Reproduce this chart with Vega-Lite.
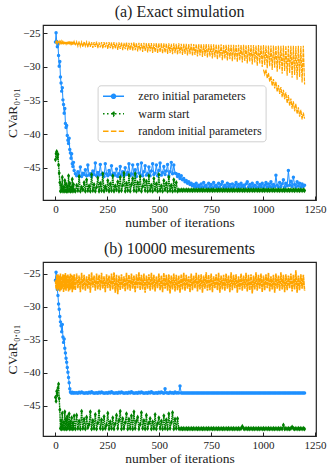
{
"$schema": "https://vega.github.io/schema/vega-lite/v6.json",
"padding": {"left": 5, "top": 3, "right": 10, "bottom": 5},
"config": {
  "font": "Liberation Serif",
  "view": {"stroke": "#222", "strokeWidth": 1.2},
  "axis": {"grid": false, "domain": false, "tickSize": -4, "tickColor": "#222", "tickWidth": 1, "labelFont": "Liberation Serif", "labelFontSize": 11, "labelColor": "#222", "labelPadding": 7, "titleFont": "Liberation Serif", "titleFontSize": 13.5, "titleFontWeight": "normal", "titleColor": "#222", "labelFlush": false, "labelOverlap": false, "labelBound": false},
  "axisX": {"titlePadding": 1},
  "axisY": {"titlePadding": 3},
  "title": {"font": "Liberation Serif", "fontSize": 16, "fontWeight": "normal", "color": "#222", "offset": 5},
  "concat": {"spacing": 10}
},
"datasets": {"d": [
{"i":0,"za":-26.3,"wa":-43.8,"ra":-26.2,"zb":-26.0,"wb":-43.7,"rb":-26.0},
{"i":3,"za":-24.9,"wa":-42.9,"ra":-26.45,"zb":-24.8,"wb":-44.3,"rb":-27.3},
{"i":6,"za":-26.2,"wa":-42.6,"ra":-26.2,"zb":-25.6,"wb":-42.8,"rb":-25.2},
{"i":9,"za":-27.0,"wa":-43.5,"ra":-26.5,"zb":-27.4,"wb":-43.4,"rb":-27.6},
{"i":12,"za":-26.6,"wa":-43.0,"ra":-26.25,"zb":-28.3,"wb":-42.3,"rb":-25.1},
{"i":15,"za":-28.3,"wa":-44.6,"ra":-26.45,"zb":-29.6,"wb":-41.7,"rb":-27.4},
{"i":18,"za":-29.9,"wa":-45.8,"ra":-26.2,"zb":-30.4,"wb":-43.9,"rb":-25.3},
{"i":21,"za":-29.2,"wa":-47.2,"ra":-26.55,"zb":-31.5,"wb":-45.6,"rb":-27.7},
{"i":24,"za":-31.5,"wa":-48.5,"ra":-26.25,"zb":-32.3,"wb":-48.4,"rb":-25.0},
{"i":27,"za":-32.4,"wa":-47.6,"ra":-26.5,"zb":-32.9,"wb":-47.2,"rb":-27.5},
{"i":30,"za":-33.6,"wa":-48.4,"ra":-26.2,"zb":-33.8,"wb":-48.5,"rb":-25.4},
{"i":33,"za":-33.1,"wa":-46.4,"ra":-26.6,"zb":-32.7,"wb":-46.1,"rb":-27.3},
{"i":36,"za":-34.9,"wa":-48.5,"ra":-26.25,"zb":-34.6,"wb":-48.4,"rb":-25.1},
{"i":39,"za":-35.6,"wa":-47.9,"ra":-26.5,"zb":-35.4,"wb":-47.5,"rb":-27.8},
{"i":42,"za":-36.9,"wa":-48.5,"ra":-26.2,"zb":-34.9,"wb":-48.5,"rb":-25.2},
{"i":45,"za":-36.2,"wa":-46.9,"ra":-26.6,"zb":-36.3,"wb":-45.9,"rb":-27.4},
{"i":48,"za":-38.4,"wa":-48.4,"ra":-26.25,"zb":-37.0,"wb":-48.4,"rb":-24.9},
{"i":51,"za":-39.0,"wa":-47.4,"ra":-26.55,"zb":-37.8,"wb":-47.0,"rb":-27.6},
{"i":54,"za":-38.7,"wa":-48.5,"ra":-26.2,"zb":-38.4,"wb":-48.5,"rb":-25.3},
{"i":57,"za":-40.2,"wa":-47.8,"ra":-26.65,"zb":-39.2,"wb":-46.6,"rb":-27.2},
{"i":60,"za":-40.9,"wa":-48.5,"ra":-26.25,"zb":-39.9,"wb":-48.4,"rb":-25.1},
{"i":63,"za":-41.4,"wa":-46.2,"ra":-26.6,"zb":-40.7,"wb":-47.8,"rb":-27.7},
{"i":66,"za":-40.6,"wa":-48.4,"ra":-26.2,"zb":-41.5,"wb":-46.2,"rb":-25.4},
{"i":69,"za":-42.3,"wa":-47.3,"ra":-26.7,"zb":-42.4,"wb":-48.5,"rb":-27.5},
{"i":72,"za":-42.8,"wa":-48.5,"ra":-26.25,"zb":-42.9,"wb":-47.4,"rb":-25.0},
{"i":75,"za":-43.6,"wa":-47.9,"ra":-26.6,"zb":-43.0,"wb":-48.4,"rb":-27.3},
{"i":78,"za":-42.9,"wa":-48.4,"ra":-26.25,"zb":-43.05,"wb":-46.8,"rb":-25.2},
{"i":81,"za":-44.4,"wa":-46.7,"ra":-26.7,"zb":-42.95,"wb":-48.5,"rb":-27.8},
{"i":84,"za":-44.8,"wa":-48.5,"ra":-26.2,"zb":-43.0,"wb":-47.6,"rb":-25.3},
{"i":87,"za":-44.2,"wa":-47.5,"ra":-26.65,"zb":-43.05,"wb":-48.4,"rb":-27.4},
{"i":90,"za":-45.4,"wa":-48.4,"ra":-26.25,"zb":-43.0,"wb":-46.5,"rb":-25.1},
{"i":96,"za":-45.9,"wa":-48.5,"ra":-26.8,"zb":-43.05,"wb":-48.5,"rb":-27.5},
{"i":102,"za":-46.2,"wa":-47.6,"ra":-26.25,"zb":-43.0,"wb":-46.4,"rb":-25.0},
{"i":108,"za":-45.6,"wa":-48.4,"ra":-26.9,"zb":-43.1,"wb":-48.4,"rb":-27.2},
{"i":114,"za":-46.1,"wa":-46.3,"ra":-26.2,"zb":-42.95,"wb":-47.3,"rb":-25.3},
{"i":120,"za":-44.9,"wa":-48.5,"ra":-26.95,"zb":-43.05,"wb":-48.5,"rb":-27.8},
{"i":126,"za":-46.3,"wa":-47.9,"ra":-26.3,"zb":-42.9,"wb":-45.8,"rb":-24.9},
{"i":132,"za":-45.8,"wa":-48.3,"ra":-27.0,"zb":-43.0,"wb":-48.4,"rb":-27.4},
{"i":138,"za":-46.0,"wa":-47.2,"ra":-26.25,"zb":-43.1,"wb":-47.0,"rb":-25.2},
{"i":144,"za":-45.3,"wa":-48.5,"ra":-26.9,"zb":-43.05,"wb":-48.5,"rb":-27.6},
{"i":150,"za":-46.2,"wa":-46.8,"ra":-26.3,"zb":-43.0,"wb":-46.7,"rb":-25.4},
{"i":156,"za":-44.6,"wa":-48.4,"ra":-27.1,"zb":-43.1,"wb":-48.3,"rb":-27.3},
{"i":162,"za":-46.1,"wa":-47.7,"ra":-26.25,"zb":-42.95,"wb":-47.8,"rb":-25.1},
{"i":168,"za":-45.9,"wa":-48.5,"ra":-27.0,"zb":-43.05,"wb":-45.9,"rb":-27.9},
{"i":174,"za":-46.3,"wa":-46.0,"ra":-26.3,"zb":-42.85,"wb":-48.5,"rb":-24.8},
{"i":180,"za":-45.5,"wa":-48.4,"ra":-27.15,"zb":-43.0,"wb":-47.2,"rb":-27.1},
{"i":186,"za":-46.0,"wa":-47.5,"ra":-26.3,"zb":-43.1,"wb":-48.4,"rb":-25.3},
{"i":192,"za":-44.3,"wa":-48.5,"ra":-27.0,"zb":-43.05,"wb":-46.3,"rb":-27.6},
{"i":198,"za":-46.2,"wa":-47.9,"ra":-26.25,"zb":-43.0,"wb":-48.5,"rb":-25.0},
{"i":204,"za":-45.7,"wa":-46.5,"ra":-27.2,"zb":-43.1,"wb":-47.6,"rb":-27.4},
{"i":210,"za":-46.1,"wa":-48.5,"ra":-26.35,"zb":-42.95,"wb":-45.8,"rb":-25.2},
{"i":216,"za":-44.5,"wa":-47.3,"ra":-27.1,"zb":-43.05,"wb":-48.4,"rb":-27.5},
{"i":222,"za":-46.0,"wa":-48.4,"ra":-26.3,"zb":-42.9,"wb":-47.1,"rb":-24.9},
{"i":228,"za":-45.8,"wa":-45.9,"ra":-27.25,"zb":-43.0,"wb":-48.5,"rb":-27.3},
{"i":234,"za":-46.3,"wa":-48.5,"ra":-26.3,"zb":-43.1,"wb":-46.6,"rb":-25.4},
{"i":240,"za":-44.4,"wa":-47.8,"ra":-27.1,"zb":-43.05,"wb":-48.4,"rb":-27.8},
{"i":246,"za":-45.9,"wa":-48.3,"ra":-26.35,"zb":-43.0,"wb":-47.9,"rb":-25.1},
{"i":252,"za":-46.2,"wa":-46.9,"ra":-27.3,"zb":-43.1,"wb":-46.1,"rb":-27.2},
{"i":258,"za":-45.4,"wa":-48.5,"ra":-26.3,"zb":-42.95,"wb":-48.5,"rb":-25.3},
{"i":264,"za":-46.0,"wa":-47.4,"ra":-27.2,"zb":-43.05,"wb":-47.4,"rb":-27.6},
{"i":270,"za":-44.7,"wa":-48.4,"ra":-26.35,"zb":-42.85,"wb":-48.4,"rb":-25.0},
{"i":276,"za":-46.2,"wa":-46.2,"ra":-27.35,"zb":-43.0,"wb":-46.8,"rb":-27.4},
{"i":282,"za":-45.8,"wa":-48.5,"ra":-26.3,"zb":-43.1,"wb":-48.5,"rb":-24.8},
{"i":288,"za":-46.1,"wa":-47.7,"ra":-27.25,"zb":-43.05,"wb":-47.7,"rb":-27.9},
{"i":294,"za":-45.2,"wa":-48.3,"ra":-26.4,"zb":-43.0,"wb":-46.4,"rb":-25.2},
{"i":300,"za":-46.3,"wa":-47.1,"ra":-27.45,"zb":-43.1,"wb":-48.4,"rb":-28.1},
{"i":306,"za":-45.9,"wa":-48.5,"ra":-26.35,"zb":-42.95,"wb":-47.2,"rb":-25.3},
{"i":312,"za":-44.8,"wa":-46.4,"ra":-27.3,"zb":-43.05,"wb":-45.8,"rb":-27.5},
{"i":318,"za":-46.1,"wa":-48.4,"ra":-26.35,"zb":-42.9,"wb":-48.5,"rb":-25.1},
{"i":324,"za":-45.6,"wa":-47.6,"ra":-27.5,"zb":-43.0,"wb":-46.9,"rb":-27.3},
{"i":330,"za":-46.2,"wa":-45.8,"ra":-26.4,"zb":-43.1,"wb":-48.4,"rb":-25.4},
{"i":336,"za":-45.0,"wa":-48.5,"ra":-27.35,"zb":-43.05,"wb":-47.5,"rb":-27.7},
{"i":342,"za":-46.0,"wa":-47.3,"ra":-26.35,"zb":-43.0,"wb":-46.2,"rb":-24.9},
{"i":348,"za":-45.7,"wa":-48.4,"ra":-27.55,"zb":-43.1,"wb":-48.5,"rb":-27.4},
{"i":354,"za":-44.4,"wa":-46.1,"ra":-26.4,"zb":-42.95,"wb":-47.0,"rb":-25.2},
{"i":360,"za":-46.2,"wa":-48.5,"ra":-27.45,"zb":-43.05,"wb":-48.4,"rb":-27.6},
{"i":366,"za":-45.9,"wa":-47.5,"ra":-26.4,"zb":-42.85,"wb":-46.5,"rb":-25.0},
{"i":372,"za":-44.6,"wa":-46.6,"ra":-27.6,"zb":-43.0,"wb":-48.5,"rb":-27.3},
{"i":378,"za":-46.1,"wa":-48.4,"ra":-26.35,"zb":-43.1,"wb":-45.9,"rb":-25.3},
{"i":384,"za":-45.3,"wa":-45.9,"ra":-27.5,"zb":-43.05,"wb":-48.4,"rb":-27.8},
{"i":390,"za":-46.3,"wa":-48.5,"ra":-26.45,"zb":-43.0,"wb":-47.3,"rb":-25.1},
{"i":396,"za":-44.5,"wa":-47.2,"ra":-27.7,"zb":-43.1,"wb":-46.7,"rb":-27.2},
{"i":402,"za":-45.8,"wa":-48.3,"ra":-26.4,"zb":-42.95,"wb":-48.5,"rb":-24.8},
{"i":408,"za":-46.0,"wa":-46.3,"ra":-27.55,"zb":-43.05,"wb":-47.8,"rb":-27.5},
{"i":414,"za":-44.3,"wa":-48.5,"ra":-26.45,"zb":-42.9,"wb":-46.0,"rb":-25.2},
{"i":420,"za":-46.2,"wa":-47.8,"ra":-27.75,"zb":-43.0,"wb":-48.4,"rb":-27.4},
{"i":426,"za":-45.6,"wa":-46.8,"ra":-26.4,"zb":-43.1,"wb":-47.2,"rb":-25.0},
{"i":432,"za":-44.7,"wa":-48.4,"ra":-27.6,"zb":-43.05,"wb":-48.5,"rb":-27.9},
{"i":438,"za":-46.1,"wa":-47.0,"ra":-26.45,"zb":-43.0,"wb":-46.4,"rb":-25.3},
{"i":444,"za":-45.9,"wa":-48.5,"ra":-27.85,"zb":-43.1,"wb":-48.4,"rb":-27.3},
{"i":450,"za":-44.9,"wa":-46.2,"ra":-26.45,"zb":-42.95,"wb":-47.6,"rb":-25.1},
{"i":456,"za":-46.2,"wa":-48.4,"ra":-27.7,"zb":-43.05,"wb":-46.9,"rb":-27.6},
{"i":462,"za":-45.5,"wa":-47.6,"ra":-26.45,"zb":-42.85,"wb":-48.5,"rb":-24.9},
{"i":468,"za":-44.4,"wa":-48.5,"ra":-27.9,"zb":-43.0,"wb":-47.4,"rb":-27.4},
{"i":474,"za":-46.0,"wa":-46.6,"ra":-26.5,"zb":-43.1,"wb":-48.4,"rb":-25.2},
{"i":480,"za":-45.8,"wa":-48.3,"ra":-27.75,"zb":-43.05,"wb":-46.3,"rb":-27.7},
{"i":486,"za":-44.6,"wa":-47.4,"ra":-26.45,"zb":-43.0,"wb":-48.5,"rb":-25.4},
{"i":492,"za":-46.2,"wa":-48.5,"ra":-27.95,"zb":-43.1,"wb":-47.7,"rb":-27.2},
{"i":498,"za":-45.4,"wa":-46.0,"ra":-26.5,"zb":-42.95,"wb":-46.8,"rb":-25.0},
{"i":504,"za":-44.3,"wa":-48.4,"ra":-27.8,"zb":-43.05,"wb":-48.4,"rb":-27.5},
{"i":510,"za":-46.1,"wa":-47.7,"ra":-26.45,"zb":-42.9,"wb":-47.3,"rb":-25.3},
{"i":516,"za":-45.7,"wa":-48.5,"ra":-28.0,"zb":-43.0,"wb":-48.5,"rb":-27.8},
{"i":522,"za":-44.8,"wa":-46.9,"ra":-26.5,"zb":-43.1,"wb":-46.5,"rb":-24.9},
{"i":528,"za":-46.0,"wa":-48.3,"ra":-27.85,"zb":-42.4,"wb":-48.4,"rb":-27.3},
{"i":534,"za":-45.5,"wa":-47.3,"ra":-26.5,"zb":-43.0,"wb":-47.1,"rb":-25.2},
{"i":540,"za":-44.5,"wa":-48.5,"ra":-28.05,"zb":-43.05,"wb":-48.5,"rb":-27.6},
{"i":546,"za":-46.2,"wa":-46.4,"ra":-26.5,"zb":-43.1,"wb":-46.2,"rb":-25.1},
{"i":552,"za":-45.6,"wa":-48.4,"ra":-27.9,"zb":-42.95,"wb":-48.4,"rb":-28.0},
{"i":558,"za":-44.2,"wa":-47.6,"ra":-26.55,"zb":-43.05,"wb":-47.5,"rb":-25.3},
{"i":564,"za":-45.9,"wa":-48.5,"ra":-28.1,"zb":-43.0,"wb":-46.0,"rb":-27.4},
{"i":570,"za":-44.6,"wa":-46.8,"ra":-26.5,"zb":-43.1,"wb":-48.5,"rb":-25.0},
{"i":576,"za":-45.8,"wa":-48.4,"ra":-27.95,"zb":-42.9,"wb":-47.0,"rb":-27.7},
{"i":582,"za":-45.9,"wa":-47.2,"ra":-26.55,"zb":-43.05,"wb":-48.4,"rb":-25.2},
{"i":588,"za":-46.3,"wa":-48.5,"ra":-28.15,"zb":-43.0,"wb":-46.9,"rb":-27.5},
{"i":594,"za":-46.0,"wa":-48.3,"ra":-26.5,"zb":-43.05,"wb":-48.4,"rb":-25.3},
{"i":600,"za":-46.6,"wa":-48.4,"ra":-28.0,"zb":-42.0,"wb":-48.5,"rb":-27.9},
{"i":606,"za":-46.2,"wa":-48.3,"ra":-26.55,"zb":-43.05,"wb":-48.4,"rb":-25.1},
{"i":612,"za":-46.8,"wa":-48.4,"ra":-28.2,"zb":-43.05,"wb":-48.5,"rb":-27.4},
{"i":618,"za":-46.6,"wa":-48.3,"ra":-26.55,"zb":-43.05,"wb":-48.4,"rb":-24.9},
{"i":624,"za":-47.1,"wa":-48.4,"ra":-28.05,"zb":-43.05,"wb":-48.5,"rb":-27.6},
{"i":630,"za":-46.9,"wa":-48.3,"ra":-26.55,"zb":-43.05,"wb":-48.4,"rb":-25.2},
{"i":636,"za":-47.3,"wa":-48.4,"ra":-28.3,"zb":-43.05,"wb":-48.5,"rb":-27.3},
{"i":642,"za":-47.1,"wa":-48.3,"ra":-26.6,"zb":-43.05,"wb":-48.4,"rb":-25.4},
{"i":648,"za":-47.5,"wa":-48.4,"ra":-28.1,"zb":-43.05,"wb":-48.5,"rb":-27.8},
{"i":654,"za":-47.3,"wa":-48.3,"ra":-26.55,"zb":-43.05,"wb":-48.4,"rb":-25.0},
{"i":660,"za":-47.7,"wa":-48.4,"ra":-28.35,"zb":-43.05,"wb":-48.5,"rb":-27.5},
{"i":666,"za":-47.5,"wa":-48.3,"ra":-26.6,"zb":-43.05,"wb":-48.4,"rb":-25.3},
{"i":672,"za":-47.9,"wa":-48.4,"ra":-28.2,"zb":-43.05,"wb":-48.5,"rb":-27.2},
{"i":678,"za":-47.3,"wa":-48.3,"ra":-26.6,"zb":-43.05,"wb":-48.4,"rb":-24.9},
{"i":684,"za":-47.8,"wa":-48.4,"ra":-28.45,"zb":-43.05,"wb":-48.5,"rb":-27.7},
{"i":690,"za":-47.6,"wa":-48.3,"ra":-26.6,"zb":-43.05,"wb":-48.4,"rb":-25.2},
{"i":696,"za":-48.0,"wa":-48.4,"ra":-28.3,"zb":-43.05,"wb":-48.5,"rb":-27.4},
{"i":702,"za":-47.4,"wa":-48.3,"ra":-26.6,"zb":-43.05,"wb":-48.4,"rb":-25.1},
{"i":708,"za":-47.9,"wa":-48.4,"ra":-28.5,"zb":-43.05,"wb":-48.5,"rb":-27.9},
{"i":714,"za":-47.2,"wa":-48.3,"ra":-26.65,"zb":-43.05,"wb":-48.4,"rb":-25.3},
{"i":720,"za":-47.8,"wa":-48.4,"ra":-28.35,"zb":-43.05,"wb":-48.5,"rb":-27.3},
{"i":726,"za":-47.6,"wa":-48.3,"ra":-26.6,"zb":-43.05,"wb":-48.4,"rb":-24.8},
{"i":732,"za":-48.1,"wa":-48.4,"ra":-28.6,"zb":-43.05,"wb":-48.5,"rb":-27.6},
{"i":738,"za":-47.3,"wa":-48.3,"ra":-26.65,"zb":-43.05,"wb":-48.4,"rb":-25.2},
{"i":744,"za":-47.9,"wa":-48.4,"ra":-28.45,"zb":-43.05,"wb":-48.5,"rb":-27.5},
{"i":750,"za":-47.5,"wa":-48.3,"ra":-26.65,"zb":-43.05,"wb":-48.4,"rb":-25.0},
{"i":756,"za":-48.0,"wa":-48.4,"ra":-28.75,"zb":-43.05,"wb":-48.5,"rb":-27.8},
{"i":762,"za":-47.2,"wa":-48.3,"ra":-26.65,"zb":-43.05,"wb":-48.4,"rb":-25.4},
{"i":768,"za":-47.8,"wa":-48.4,"ra":-28.55,"zb":-43.05,"wb":-48.5,"rb":-27.2},
{"i":774,"za":-47.6,"wa":-48.3,"ra":-26.65,"zb":-43.05,"wb":-48.4,"rb":-25.1},
{"i":780,"za":-47.9,"wa":-48.4,"ra":-28.85,"zb":-43.05,"wb":-48.5,"rb":-27.5},
{"i":786,"za":-47.3,"wa":-48.3,"ra":-26.7,"zb":-43.05,"wb":-48.4,"rb":-24.9},
{"i":792,"za":-48.0,"wa":-48.4,"ra":-28.6,"zb":-43.05,"wb":-48.5,"rb":-27.9},
{"i":798,"za":-47.5,"wa":-48.3,"ra":-26.65,"zb":-43.05,"wb":-48.4,"rb":-25.3},
{"i":804,"za":-47.1,"wa":-48.4,"ra":-29.0,"zb":-43.05,"wb":-48.5,"rb":-27.4},
{"i":810,"za":-47.9,"wa":-48.3,"ra":-26.7,"zb":-43.05,"wb":-48.4,"rb":-25.2},
{"i":816,"za":-47.6,"wa":-48.4,"ra":-28.75,"zb":-43.05,"wb":-48.5,"rb":-27.6},
{"i":822,"za":-48.0,"wa":-48.3,"ra":-26.7,"zb":-43.05,"wb":-48.4,"rb":-25.0},
{"i":828,"za":-47.3,"wa":-48.4,"ra":-29.05,"zb":-43.05,"wb":-48.5,"rb":-27.3},
{"i":834,"za":-47.8,"wa":-48.3,"ra":-26.7,"zb":-43.05,"wb":-48.4,"rb":-25.3},
{"i":840,"za":-47.5,"wa":-48.4,"ra":-28.85,"zb":-43.05,"wb":-48.5,"rb":-27.8},
{"i":846,"za":-48.1,"wa":-48.3,"ra":-26.7,"zb":-43.05,"wb":-48.4,"rb":-24.8},
{"i":852,"za":-47.4,"wa":-48.4,"ra":-29.15,"zb":-43.05,"wb":-48.5,"rb":-27.5},
{"i":858,"za":-47.9,"wa":-48.3,"ra":-26.7,"zb":-43.05,"wb":-48.4,"rb":-25.2},
{"i":864,"za":-47.6,"wa":-48.4,"ra":-28.9,"zb":-43.05,"wb":-48.5,"rb":-27.2},
{"i":870,"za":-47.2,"wa":-48.3,"ra":-26.75,"zb":-43.05,"wb":-48.4,"rb":-25.1},
{"i":876,"za":-47.9,"wa":-48.4,"ra":-29.25,"zb":-43.05,"wb":-48.5,"rb":-27.9},
{"i":882,"za":-47.5,"wa":-48.3,"ra":-26.7,"zb":-43.05,"wb":-48.4,"rb":-25.4},
{"i":888,"za":-48.0,"wa":-48.4,"ra":-29.0,"zb":-43.05,"wb":-48.5,"rb":-27.4},
{"i":894,"za":-47.3,"wa":-48.3,"ra":-26.75,"zb":-43.05,"wb":-48.4,"rb":-25.0},
{"i":900,"za":-47.8,"wa":-48.4,"ra":-29.35,"zb":-43.05,"wb":-48.1,"rb":-27.6},
{"i":906,"za":-47.6,"wa":-48.3,"ra":-26.7,"zb":-43.05,"wb":-48.4,"rb":-25.3},
{"i":912,"za":-48.0,"wa":-48.4,"ra":-29.1,"zb":-43.05,"wb":-48.5,"rb":-27.3},
{"i":918,"za":-47.4,"wa":-48.3,"ra":-26.75,"zb":-43.05,"wb":-48.4,"rb":-24.9},
{"i":924,"za":-47.1,"wa":-48.4,"ra":-29.5,"zb":-43.05,"wb":-48.5,"rb":-27.7},
{"i":930,"za":-47.9,"wa":-48.3,"ra":-26.75,"zb":-43.05,"wb":-48.4,"rb":-25.2},
{"i":936,"za":-47.5,"wa":-48.4,"ra":-29.2,"zb":-43.05,"wb":-48.5,"rb":-27.5},
{"i":942,"za":-48.0,"wa":-48.3,"ra":-26.75,"zb":-43.05,"wb":-48.4,"rb":-25.1},
{"i":948,"za":-47.3,"wa":-48.4,"ra":-29.65,"zb":-43.05,"wb":-48.5,"rb":-28.0},
{"i":954,"za":-47.8,"wa":-48.3,"ra":-26.75,"zb":-43.05,"wb":-48.4,"rb":-25.3},
{"i":960,"za":-47.6,"wa":-48.4,"ra":-29.35,"zb":-43.05,"wb":-48.5,"rb":-27.4},
{"i":966,"za":-48.1,"wa":-48.3,"ra":-26.8,"zb":-43.05,"wb":-48.4,"rb":-24.8},
{"i":972,"za":-47.2,"wa":-48.4,"ra":-29.8,"zb":-43.05,"wb":-48.5,"rb":-27.6},
{"i":978,"za":-47.9,"wa":-48.3,"ra":-26.75,"zb":-43.05,"wb":-48.4,"rb":-25.2},
{"i":984,"za":-47.5,"wa":-48.4,"ra":-29.5,"zb":-43.05,"wb":-48.5,"rb":-27.3},
{"i":990,"za":-47.8,"wa":-48.3,"ra":-26.8,"zb":-43.05,"wb":-48.4,"rb":-25.0},
{"i":996,"za":-47.3,"wa":-48.4,"ra":-30.0,"zb":-43.05,"wb":-48.5,"rb":-27.8},
{"i":1002,"za":-48.0,"wa":-48.3,"ra":-26.75,"rd":-30.4,"zb":-43.05,"wb":-48.4,"rb":-25.3},
{"i":1008,"za":-47.6,"wa":-48.4,"ra":-29.7,"rd":-31.1,"zb":-43.05,"wb":-48.5,"rb":-27.5},
{"i":1014,"za":-47.2,"wa":-48.3,"ra":-26.8,"rd":-30.4,"zb":-43.05,"wb":-48.4,"rb":-25.1},
{"i":1020,"za":-47.9,"wa":-48.4,"ra":-30.2,"rd":-31.7,"zb":-43.05,"wb":-48.5,"rb":-27.2},
{"i":1026,"za":-47.4,"wa":-48.3,"ra":-26.8,"rd":-30.9,"zb":-43.05,"wb":-48.4,"rb":-24.9},
{"i":1032,"za":-47.8,"wa":-48.4,"ra":-29.9,"rd":-32.2,"zb":-43.05,"wb":-48.5,"rb":-27.7},
{"i":1038,"za":-47.1,"wa":-48.3,"ra":-26.8,"rd":-31.4,"zb":-43.05,"wb":-48.4,"rb":-25.4},
{"i":1044,"za":-47.9,"wa":-48.4,"ra":-30.45,"rd":-32.8,"zb":-43.05,"wb":-48.5,"rb":-27.4},
{"i":1050,"za":-47.5,"wa":-48.3,"ra":-26.8,"rd":-31.8,"zb":-43.05,"wb":-48.4,"rb":-25.2},
{"i":1056,"za":-47.8,"wa":-48.4,"ra":-30.1,"rd":-33.2,"zb":-43.05,"wb":-48.5,"rb":-27.9},
{"i":1062,"za":-46.1,"wa":-48.3,"ra":-26.85,"rd":-32.2,"zb":-43.05,"wb":-48.4,"rb":-25.0},
{"i":1068,"za":-47.6,"wa":-48.4,"ra":-30.7,"rd":-33.7,"zb":-43.05,"wb":-48.5,"rb":-27.3},
{"i":1074,"za":-47.9,"wa":-48.3,"ra":-26.8,"rd":-32.7,"zb":-43.05,"wb":-48.4,"rb":-25.3},
{"i":1080,"za":-47.2,"wa":-48.4,"ra":-30.35,"rd":-34.0,"zb":-43.05,"wb":-48.5,"rb":-27.6},
{"i":1086,"za":-47.8,"wa":-48.3,"ra":-26.85,"rd":-33.0,"zb":-43.05,"wb":-48.4,"rb":-24.8},
{"i":1092,"za":-47.4,"wa":-48.4,"ra":-31.0,"rd":-34.5,"zb":-43.05,"wb":-48.5,"rb":-27.4},
{"i":1098,"za":-46.8,"wa":-48.3,"ra":-26.8,"rd":-33.4,"zb":-43.05,"wb":-47.9,"rb":-25.2},
{"i":1104,"za":-47.9,"wa":-48.4,"ra":-30.6,"rd":-34.8,"zb":-43.05,"wb":-48.5,"rb":-27.8},
{"i":1110,"za":-47.3,"wa":-48.3,"ra":-26.85,"rd":-33.8,"zb":-43.05,"wb":-48.4,"rb":-25.1},
{"i":1116,"za":-47.7,"wa":-48.4,"ra":-31.3,"rd":-35.4,"zb":-43.05,"wb":-48.5,"rb":-27.5},
{"i":1122,"za":-45.4,"wa":-48.3,"ra":-26.85,"rd":-34.2,"zb":-43.05,"wb":-48.4,"rb":-25.3},
{"i":1128,"za":-47.6,"wa":-48.4,"ra":-30.9,"rd":-35.8,"zb":-43.05,"wb":-48.5,"rb":-27.2},
{"i":1134,"za":-47.0,"wa":-48.3,"ra":-26.85,"rd":-34.7,"zb":-43.05,"wb":-48.4,"rb":-25.0},
{"i":1140,"za":-47.8,"wa":-48.4,"ra":-31.6,"rd":-36.2,"zb":-43.05,"wb":-48.2,"rb":-27.7},
{"i":1146,"za":-46.4,"wa":-48.3,"ra":-26.85,"rd":-35.1,"zb":-43.05,"wb":-48.4,"rb":-25.2},
{"i":1152,"za":-47.5,"wa":-48.4,"ra":-31.2,"rd":-36.6,"zb":-43.05,"wb":-48.5,"rb":-27.4},
{"i":1158,"za":-47.9,"wa":-48.3,"ra":-26.9,"rd":-35.5,"zb":-43.05,"wb":-48.4,"rb":-24.5},
{"i":1164,"za":-47.1,"wa":-48.4,"ra":-31.9,"rd":-37.0,"zb":-43.05,"wb":-48.5,"rb":-27.9},
{"i":1170,"za":-47.7,"wa":-48.3,"ra":-26.85,"rd":-36.0,"zb":-43.05,"wb":-48.4,"rb":-25.3},
{"i":1176,"za":-47.3,"wa":-48.4,"ra":-31.5,"rd":-37.4,"zb":-43.05,"wb":-48.5,"rb":-27.5},
{"i":1182,"za":-47.9,"wa":-48.3,"ra":-26.9,"rd":-36.4,"zb":-43.05,"wb":-48.4,"rb":-25.1},
{"i":1188,"za":-47.4,"wa":-48.4,"ra":-32.3,"rd":-37.8,"zb":-43.05,"wb":-48.5,"rb":-27.3},
{"i":1194,"za":-47.8,"wa":-48.3,"ra":-26.85,"rd":-36.8,"zb":-43.05,"wb":-48.4,"rb":-25.2},
{"i":1200,"za":-47.6,"wa":-48.4,"ra":-32.6,"rd":-37.7,"zb":-43.05,"wb":-48.5,"rb":-27.6}
]},
"data": {"name": "d"},
"resolve": {"scale": {"color": "independent"}, "legend": {"color": "independent"}},
"vconcat": [
{
  "width": 273, "height": 175,
  "title": {"text": "(a) Exact simulation"},
  "encoding": {"x": {"field": "i", "type": "quantitative", "scale": {"domain": [-60, 1255], "nice": false, "zero": false}, "axis": {"values": [0, 250, 500, 750, 1000, 1250], "format": "d", "title": "number of iterations"}}},
  "layer": [
    {"mark": {"type": "line", "strokeWidth": 1}, "encoding": {
      "y": {"field": "za", "type": "quantitative", "title": "CVaR₀.₀₁", "scale": {"domain": [-49.8, -23.76], "nice": false, "zero": false}, "axis": {"values": [-45, -40, -35, -30, -25], "format": "d"}},
      "color": {"datum": "zero initial parameters", "scale": {"domain": ["zero initial parameters", "warm start", "random initial parameters"], "range": ["#1e90ff", "#008000", "#ffa500"]},
        "legend": {"orient": "none", "legendX": 54.6, "legendY": 60.3, "title": null, "padding": 4, "rowPadding": 4.5, "symbolSize": 144, "labelOffset": 22.7, "labelFontSize": 12, "labelFont": "Liberation Serif", "labelColor": "#222", "fillColor": "rgba(255,255,255,0.85)", "strokeColor": "#d0d0d0", "cornerRadius": 3,
          "encode": {"symbols": {"update": {
            "shape": {"signal": "datum.value === 'zero initial parameters' ? 'M-0.93,0H2.57M1.15,0A0.33,0.33,0,1,1,0.49,0A0.33,0.33,0,1,1,1.15,0Z' : datum.value === 'warm start' ? 'M-0.93,0H2.57M0.82,-0.37L1.07,0L0.82,0.37L0.57,0Z' : 'M-0.93,0H2.57'"},
            "fill": {"signal": "datum.value === 'zero initial parameters' ? '#1e90ff' : datum.value === 'warm start' ? '#008000' : 'transparent'"},
            "stroke": {"signal": "datum.value === 'zero initial parameters' ? '#1e90ff' : datum.value === 'warm start' ? '#008000' : '#ffa500'"},
            "strokeDash": {"signal": "datum.value === 'warm start' ? [1.5, 2.5] : datum.value === 'random initial parameters' ? [5.5, 2.4] : [1, 0]"},
            "strokeWidth": {"value": 1.5},
            "opacity": {"value": 1}
          }}}}}
    }},
    {"mark": {"type": "point", "filled": true, "shape": "circle", "size": 12, "opacity": 1}, "encoding": {
      "y": {"field": "za", "type": "quantitative", "title": "CVaR₀.₀₁"},
      "color": {"datum": "zero initial parameters"}}},
    {"mark": {"type": "line", "strokeWidth": 1.4, "strokeDash": [1.6, 0.6]}, "encoding": {
      "y": {"field": "wa", "type": "quantitative", "title": "CVaR₀.₀₁"},
      "color": {"datum": "warm start"}}},
    {"mark": {"type": "point", "filled": true, "shape": "M0,-1L0.6,0L0,1L-0.6,0Z", "size": 26, "opacity": 1}, "encoding": {
      "y": {"field": "wa", "type": "quantitative", "title": "CVaR₀.₀₁"},
      "color": {"datum": "warm start"}}},
    {"mark": {"type": "line", "strokeWidth": 1.2, "strokeDash": [4, 0.8]}, "encoding": {
      "y": {"field": "ra", "type": "quantitative", "title": "CVaR₀.₀₁"},
      "color": {"datum": "random initial parameters"}}},
    {"transform": [{"filter": "isValid(datum.rd)"}], "mark": {"type": "line", "strokeWidth": 1.2, "strokeDash": [4, 0.8]}, "encoding": {
      "y": {"field": "rd", "type": "quantitative", "title": "CVaR₀.₀₁"},
      "color": {"datum": "random initial parameters"}}}
  ]
},
{
  "width": 273, "height": 174,
  "title": {"text": "(b) 10000 mesurements"},
  "encoding": {"x": {"field": "i", "type": "quantitative", "scale": {"domain": [-60, 1255], "nice": false, "zero": false}, "axis": {"values": [0, 250, 500, 750, 1000, 1250], "format": "d", "title": "number of iterations"}}},
  "layer": [
    {"mark": {"type": "line", "strokeWidth": 1}, "encoding": {
      "y": {"field": "zb", "type": "quantitative", "title": "CVaR₀.₀₁", "scale": {"domain": [-49.55, -23.25], "nice": false, "zero": false}, "axis": {"values": [-45, -40, -35, -30, -25], "format": "d"}},
      "color": {"datum": "zero initial parameters", "scale": {"domain": ["zero initial parameters", "warm start", "random initial parameters"], "range": ["#1e90ff", "#008000", "#ffa500"]}, "legend": null}}},
    {"mark": {"type": "point", "filled": true, "shape": "circle", "size": 12, "opacity": 1}, "encoding": {
      "y": {"field": "zb", "type": "quantitative", "title": "CVaR₀.₀₁"},
      "color": {"datum": "zero initial parameters", "legend": null}}},
    {"mark": {"type": "line", "strokeWidth": 1.4, "strokeDash": [1.6, 0.6]}, "encoding": {
      "y": {"field": "wb", "type": "quantitative", "title": "CVaR₀.₀₁"},
      "color": {"datum": "warm start", "legend": null}}},
    {"mark": {"type": "point", "filled": true, "shape": "M0,-1L0.6,0L0,1L-0.6,0Z", "size": 26, "opacity": 1}, "encoding": {
      "y": {"field": "wb", "type": "quantitative", "title": "CVaR₀.₀₁"},
      "color": {"datum": "warm start", "legend": null}}},
    {"mark": {"type": "line", "strokeWidth": 1.6, "strokeDash": [4, 0.5]}, "encoding": {
      "y": {"field": "rb", "type": "quantitative", "title": "CVaR₀.₀₁"},
      "color": {"datum": "random initial parameters", "legend": null}}}
  ]
}
]
}
